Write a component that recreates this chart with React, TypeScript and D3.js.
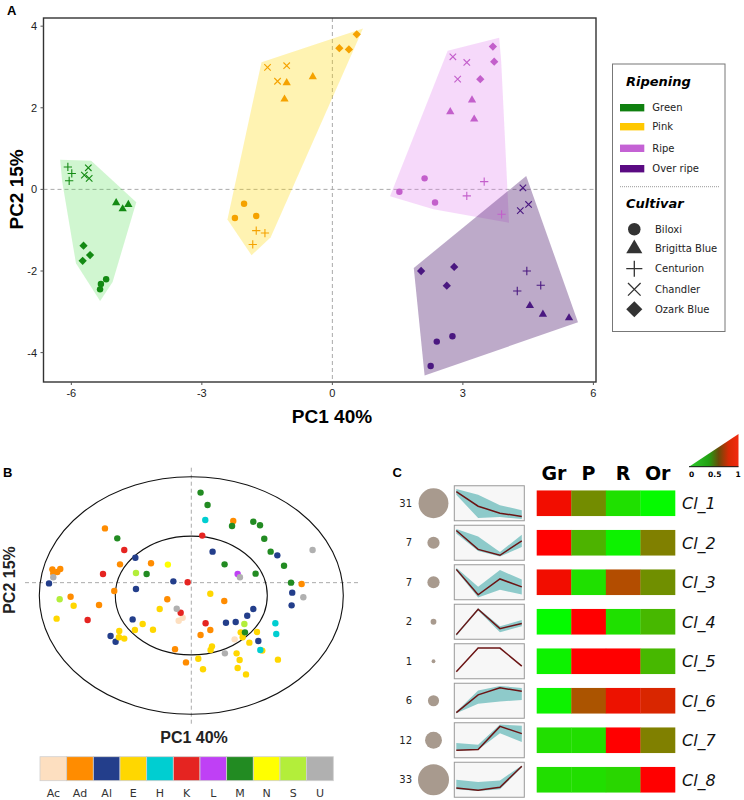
import React from "react";
import * as d3 from "d3";

// ---------------- Panel A data ----------------
const stages = ["Green", "Pink", "Ripe", "Over ripe"];
const stageMarker = ["#138a13", "#f5a200", "#c35fcb", "#4a1880"];
const stageLegend = ["#0f800f", "#ffc800", "#c462d4", "#5a0a82"];
const stageHull = ["#44dd44", "#ffd700", "#e080f0", "#5a2a78"];
const stageHullOpacity = [0.25, 0.3, 0.3, 0.4];
const cultivars = ["Biloxi", "Brigitta Blue", "Centurion", "Chandler", "Ozark Blue"];

type Score = [string, number, number];
const scoresGreen: Score[] = [
  ["Centurion", -6.08, 0.55], ["Centurion", -5.99, 0.39], ["Centurion", -6.05, 0.21],
  ["Chandler", -5.61, 0.53], ["Chandler", -5.7, 0.35], ["Chandler", -5.59, 0.27],
  ["Brigitta Blue", -4.97, -0.33], ["Brigitta Blue", -4.82, -0.48], ["Brigitta Blue", -4.69, -0.37],
  ["Ozark Blue", -5.72, -1.38], ["Ozark Blue", -5.57, -1.61], ["Ozark Blue", -5.74, -1.75],
  ["Biloxi", -5.2, -2.2], ["Biloxi", -5.32, -2.32], ["Biloxi", -5.34, -2.45],
];
const scoresPink: Score[] = [
  ["Ozark Blue", 0.56, 3.8], ["Ozark Blue", 0.16, 3.46], ["Ozark Blue", 0.38, 3.43],
  ["Chandler", -1.49, 2.99], ["Chandler", -1.05, 3.03], ["Chandler", -1.26, 2.65],
  ["Brigitta Blue", -1.05, 2.61], ["Brigitta Blue", -0.45, 2.76], ["Brigitta Blue", -1.1, 2.21],
  ["Biloxi", -2.24, -0.7], ["Biloxi", -2.03, -0.35], ["Biloxi", -1.75, -0.65],
  ["Centurion", -1.75, -1.01], ["Centurion", -1.55, -1.07], ["Centurion", -1.83, -1.35],
];
const scoresRipe: Score[] = [
  ["Ozark Blue", 3.69, 3.5], ["Ozark Blue", 3.72, 3.13], ["Ozark Blue", 3.4, 2.7],
  ["Chandler", 2.77, 3.25], ["Chandler", 3.09, 3.11], ["Chandler", 2.88, 2.7],
  ["Brigitta Blue", 3.21, 2.19], ["Brigitta Blue", 2.71, 1.9], ["Brigitta Blue", 3.26, 1.72],
  ["Biloxi", 2.12, 0.27], ["Biloxi", 1.54, -0.06], ["Biloxi", 2.36, -0.32],
  ["Centurion", 3.49, 0.19], ["Centurion", 3.09, -0.16], ["Centurion", 3.89, -0.61],
];
const scoresOverRipe: Score[] = [
  ["Chandler", 4.38, 0.04], ["Chandler", 4.51, -0.37], ["Chandler", 4.32, -0.52],
  ["Centurion", 4.47, -2.0], ["Centurion", 4.79, -2.35], ["Centurion", 4.25, -2.49],
  ["Brigitta Blue", 4.54, -2.85], ["Brigitta Blue", 4.84, -3.06], ["Brigitta Blue", 5.44, -3.15],
  ["Ozark Blue", 2.04, -2.0], ["Ozark Blue", 2.8, -1.9], ["Ozark Blue", 2.63, -2.36],
  ["Biloxi", 2.4, -3.73], ["Biloxi", 2.76, -3.6], ["Biloxi", 2.26, -4.33],
];
const scoreGroups = [scoresGreen, scoresPink, scoresRipe, scoresOverRipe];
const xTicksA = [-6, -3, 0, 3, 6];
const yTicksA = [-4, -2, 0, 2, 4];

// ---------------- Panel B data ----------------
const classes = ["Ac", "Ad", "Al", "E", "H", "K", "L", "M", "N", "S", "U"];
const classColors = ["#fddfc0", "#ff8c00", "#233e8b", "#ffd700", "#00ced1", "#e52421", "#bf40f5", "#228b22", "#ffff00", "#b3ee3a", "#b0b0b0"];
type P = [number, number];
const loadAc: P[] = [[-0.083, -0.212], [-0.057, -0.187], [0.285, -0.369]];
const loadAd: P[] = [
  [-0.568, 0.565], [-0.914, 0.22], [-0.882, 0.198], [-0.862, 0.223], [-0.908, 0.187], [-0.469, 0.262],
  [-0.265, 0.271], [-0.794, -0.01], [-0.607, -0.08], [-0.507, 0.038], [-0.158, -0.032], [0.276, 0.627],
  [0.217, -0.046], [0.726, 0.097], [0.061, -0.332], [0.125, -0.29], [-0.107, -0.453], [-0.035, -0.563],
];
const loadAl: P[] = [
  [-0.936, 0.102], [-0.368, 0.318], [-0.364, 0.055], [-0.118, 0.119], [0.14, 0.369], [0.566, 0.338],
  [-0.386, -0.201], [-0.531, -0.341], [-0.498, -0.389], [0.228, -0.229], [0.292, -0.223], [0.368, -0.17],
  [0.408, -0.114], [0.441, -0.383], [0.664, 0.024], [0.66, -0.083],
];
const loadE: P[] = [
  [-0.886, -0.195], [-0.774, -0.086], [-0.474, -0.299], [-0.441, -0.363], [-0.476, -0.352], [-0.371, -0.29],
  [-0.32, -0.24], [-0.252, -0.288], [-0.208, -0.114], [0.125, 0.015], [0.046, -0.532], [0.077, -0.621],
  [0.127, -0.459], [0.136, -0.428], [0.298, -0.487], [0.318, -0.543], [0.305, -0.61], [0.36, -0.664],
  [0.325, -0.31], [0.338, -0.352], [0.382, -0.397], [0.432, -0.307], [0.467, -0.464], [0.57, -0.54],
];
const loadH: P[] = [[0.092, 0.636], [0.553, -0.234], [0.559, -0.324], [0.454, -0.459]];
const loadK: P[] = [[-0.441, 0.383], [-0.581, 0.181], [-0.024, 0.111], [0.072, 0.504], [-0.682, -0.206], [-0.07, -0.145], [0.094, -0.234]];
const loadL: P[] = [[0.305, 0.181]];
const loadM: P[] = [
  [0.061, 0.866], [0.107, 0.762], [0.268, 0.585], [0.408, 0.621], [0.452, 0.591], [0.48, 0.478],
  [0.522, 0.369], [0.61, 0.251], [0.219, 0.262], [0.423, 0.184], [-0.294, 0.181], [-0.487, 0.481],
  [0.656, 0.108], [0.353, -0.31],
];
const loadN: P[] = [[-0.154, 0.26]];
const loadS: P[] = [[-0.364, 0.189], [-0.866, -0.032], [0.349, -0.24]];
const loadU: P[] = [[-0.908, 0.153], [-0.096, -0.111], [0.32, 0.153], [0.798, 0.383], [0.737, -0.015], [0.221, -0.487]];
const loadings = [loadAc, loadAd, loadAl, loadE, loadH, loadK, loadL, loadM, loadN, loadS, loadU];
const bHLine = 0.108;

// ---------------- Panel C data ----------------
const clusterNames = ["Cl_1", "Cl_2", "Cl_3", "Cl_4", "Cl_5", "Cl_6", "Cl_7", "Cl_8"];
const clusterSizes = [31, 7, 7, 2, 1, 6, 12, 33];
const stageCols = ["Gr", "P", "R", "Or"];
const profileMean = [
  [0.85, 0.41, 0.2, 0.1], [0.87, 0.3, 0.12, 0.56], [0.89, 0.12, 0.6, 0.36], [0.11, 0.88, 0.29, 0.45],
  [0.18, 0.9, 0.9, 0.35], [0.14, 0.68, 0.89, 0.79], [0.2, 0.22, 0.92, 0.7], [0.25, 0.18, 0.27, 0.91],
];
const profileUpper = [
  [0.93, 0.76, 0.44, 0.29], [0.92, 0.69, 0.22, 0.74], [0.94, 0.36, 0.87, 0.58], [0.14, 0.91, 0.36, 0.55],
  [0.18, 0.9, 0.9, 0.35], [0.17, 0.81, 0.95, 0.89], [0.42, 0.36, 0.98, 0.94], [0.5, 0.43, 0.48, 0.93],
];
const profileLower = [
  [0.76, 0.05, 0.08, 0.02], [0.78, 0.25, 0.08, 0.37], [0.85, 0.04, 0.27, 0.13], [0.07, 0.84, 0.18, 0.36],
  [0.18, 0.9, 0.9, 0.35], [0.12, 0.41, 0.48, 0.52], [0.18, 0.21, 0.71, 0.45], [0.21, 0.16, 0.21, 0.88],
];
const heatValues = [
  [0.95, 0.45, 0.12, 0.02], [1.0, 0.3, 0.05, 0.5], [0.95, 0.12, 0.7, 0.44], [0.02, 1.0, 0.12, 0.28],
  [0.05, 1.0, 1.0, 0.28], [0.05, 0.67, 0.93, 0.85], [0.13, 0.13, 1.0, 0.5], [0.13, 0.13, 0.16, 1.0],
];
const heatLegendTicks = [0, 0.5, 1];
const triGradStops: [number, string][] = [[0, "#2ecc2e"], [0.4, "#22a012"], [0.6, "#6a4a08"], [0.8, "#d82a05"], [1, "#f22a10"]];

// ---------------- helpers ----------------
function markerPath(cultivar: string, s: number): { d: string; filled: boolean } {
  switch (cultivar) {
    case "Biloxi":
      return { d: d3.symbol(d3.symbolCircle, Math.PI * s * s * 0.8)() as string, filled: true };
    case "Brigitta Blue": {
      const side = s * 2.3;
      return { d: d3.symbol(d3.symbolTriangle, (Math.sqrt(3) / 4) * side * side)() as string, filled: true };
    }
    case "Centurion": {
      const a = s * 1.15;
      return { d: `M${-a},0H${a}M0,${-a}V${a}`, filled: false };
    }
    case "Chandler": {
      const a = s * 0.9;
      return { d: `M${-a},${-a}L${a},${a}M${-a},${a}L${a},${-a}`, filled: false };
    }
    default: {
      const a = s * 1.15;
      return { d: `M0,${-a}L${a},0L0,${a}L${-a},0Z`, filled: true };
    }
  }
}

function paddedHull(pts: [number, number][], pad: number): [number, number][] {
  const hull = d3.polygonHull(pts) as [number, number][];
  const c = d3.polygonCentroid(hull);
  const n = hull.length;
  const normals = hull.map((p, i) => {
    const q = hull[(i + 1) % n];
    const dx = q[0] - p[0], dy = q[1] - p[1];
    const L = Math.hypot(dx, dy) || 1;
    let nx = dy / L, ny = -dx / L;
    const mx = (p[0] + q[0]) / 2 - c[0], my = (p[1] + q[1]) / 2 - c[1];
    if (nx * mx + ny * my < 0) { nx = -nx; ny = -ny; }
    return [nx, ny];
  });
  return hull.map((p, i) => {
    const n1 = normals[(i - 1 + n) % n], n2 = normals[i];
    const dot = n1[0] * n2[0] + n1[1] * n2[1];
    const k = Math.min(pad / (1 + dot), pad * 1.6);
    return [p[0] + (n1[0] + n2[0]) * k, p[1] + (n1[1] + n2[1]) * k] as [number, number];
  });
}

const SANS = "'Liberation Sans', Arial, sans-serif";
const DJ = "'DejaVu Sans', sans-serif";

export default function App() {
  // ---- Panel A ----
  const xA = d3.scaleLinear().domain([-6.64, 6.06]).range([43.5, 596]);
  const yA = d3.scaleLinear().domain([-4.72, 4.2]).range([382, 18]);
  const [ax0, ax1] = xA.range();
  const [ay0, ay1] = yA.range();

  // ---- Panel B ----
  const xB = d3.scaleLinear().domain([-1, 1]).range([39.3, 343.3]);
  const yB = d3.scaleLinear().domain([-1, 1]).range([714.3, 476.7]);
  const colorBand = d3.scaleBand().domain(classes).range([40, 333.3]);

  // ---- Panel C ----
  const rowBand = d3.scaleBand().domain(clusterNames).range([483.5, 799.5]);
  const sizeScale = d3.scalePow().exponent(0.6).domain([0, 33]).range([0, 15.5]);
  const heatX = d3.scaleBand().domain(stageCols).range([536.7, 675]);
  const heatColor = d3.scaleLinear<string>().domain([0, 1]).range(["#00ff00", "#ff0000"]).interpolate(d3.interpolateRgb);
  const boxX0 = 454.3, boxW = 70, boxH = 35;
  const sparkX = d3.scalePoint().domain(stageCols).range([boxX0 + 2, boxX0 + boxW - 2.5]);
  const legendTri = { x0: 689, x1: 738.5, yb: 466.7, yt: 434 };
  const triX = d3.scaleLinear().domain([0, 1]).range([legendTri.x0 + 2.5, legendTri.x1 - 0.5]);

  return (
    <svg width={744} height={800} style={{ position: "absolute", left: 0, top: 0, background: "#fff" }}>
      <defs>
        <linearGradient id="heatGrad" x1="0" x2="1" y1="0" y2="0">
          {triGradStops.map(([t, c]) => (
            <stop key={t} offset={`${t * 100}%`} stopColor={c} />
          ))}
        </linearGradient>
      </defs>

      {/* ================= Panel A ================= */}
      <text x={7} y={15} fontFamily={SANS} fontWeight="bold" fontSize={13}>A</text>
      <line x1={xA(0)} x2={xA(0)} y1={ay1} y2={ay0} stroke="#aaa" strokeDasharray="4,3" />
      <line x1={ax0} x2={ax1} y1={yA(0)} y2={yA(0)} stroke="#aaa" strokeDasharray="4,3" />
      {scoreGroups.map((g, gi) => {
        const pts = g.map((d) => [xA(d[1]), yA(d[2])] as [number, number]);
        const hull = paddedHull(pts, 7);
        return (
          <path key={"hull" + gi} d={"M" + hull.map((p) => p.join(",")).join("L") + "Z"}
            fill={stageHull[gi]} fillOpacity={stageHullOpacity[gi]} stroke="none" />
        );
      })}
      {scoreGroups.map((g, gi) =>
        g.map((d, i) => {
          const m = markerPath(d[0], 3.6);
          return (
            <path key={`m${gi}-${i}`} d={m.d} transform={`translate(${xA(d[1])},${yA(d[2])})`}
              fill={m.filled ? stageMarker[gi] : "none"} stroke={m.filled ? "none" : stageMarker[gi]} strokeWidth={1.1} />
          );
        })
      )}
      <rect x={ax0} y={ay1} width={ax1 - ax0} height={ay0 - ay1} fill="none" stroke="#333" strokeWidth={1.4} />
      {xTicksA.map((t) => (
        <g key={"xt" + t}>
          <line x1={xA(t)} x2={xA(t)} y1={ay0} y2={ay0 + 3} stroke="#555" />
          <text x={xA(t)} y={397} textAnchor="middle" fontFamily={SANS} fontSize={11} fill="#222">{t}</text>
        </g>
      ))}
      {yTicksA.map((t) => (
        <g key={"yt" + t}>
          <line x1={ax0 - 3} x2={ax0} y1={yA(t)} y2={yA(t)} stroke="#555" />
          <text x={37} y={yA(t) + 4} textAnchor="end" fontFamily={SANS} fontSize={11} fill="#222">{t}</text>
        </g>
      ))}
      <text x={332} y={422.5} textAnchor="middle" fontFamily={SANS} fontWeight="bold" fontSize={19}>PC1 40%</text>
      <text transform={`translate(23,${yA(0)}) rotate(-90)`} textAnchor="middle" fontFamily={SANS} fontWeight="bold" fontSize={19}>PC2 15%</text>

      {/* Legend */}
      <rect x={612.5} y={64} width={112.5} height={267.5} fill="#fff" stroke="#777" strokeWidth={1} />
      <text x={626} y={86} fontFamily={DJ} fontWeight="bold" fontStyle="italic" fontSize={13}>Ripening</text>
      {stages.map((s, i) => {
        const yc = [107.7, 126.7, 148.3, 168.7][i];
        return (
          <g key={"ls" + s}>
            <rect x={620} y={yc - 3.7} width={24.3} height={7.4} fill={stageLegend[i]} />
            <text x={652.3} y={yc + 3.5} fontFamily={DJ} fontSize={10} fill="#222">{s}</text>
          </g>
        );
      })}
      <line x1={620} x2={720} y1={186.7} y2={186.7} stroke="#999" strokeDasharray="1,1" />
      <text x={626} y={208.3} fontFamily={DJ} fontWeight="bold" fontStyle="italic" fontSize={13}>Cultivar</text>
      {cultivars.map((c, i) => {
        const yc = [229.3, 248.7, 268.7, 289.3, 309.3][i];
        const m = markerPath(c, 7);
        return (
          <g key={"lc" + c}>
            <path d={m.d} transform={`translate(634.3,${yc})`} fill={m.filled ? "#333" : "none"}
              stroke={m.filled ? "none" : "#333"} strokeWidth={1.3} />
            <text x={655} y={yc + 3.5} fontFamily={DJ} fontSize={10} fill="#222">{c}</text>
          </g>
        );
      })}

      {/* ================= Panel B ================= */}
      <text x={3} y={477} fontFamily={SANS} fontWeight="bold" fontSize={13}>B</text>
      <line x1={xB(0)} x2={xB(0)} y1={467.7} y2={726} stroke="#aaa" strokeDasharray="4,3" />
      <line x1={25} x2={358} y1={yB(bHLine)} y2={yB(bHLine)} stroke="#aaa" strokeDasharray="4,3" />
      {[1, 0.5].map((r) => (
        <ellipse key={"el" + r} cx={xB(0)} cy={yB(0)} rx={xB(r) - xB(0)} ry={yB(0) - yB(r)}
          fill="none" stroke="#111" strokeWidth={1.1} />
      ))}
      {loadings.map((arr, ci) =>
        arr.map((p, i) => (
          <circle key={`b${ci}-${i}`} cx={xB(p[0])} cy={yB(p[1])} r={3.2} fill={classColors[ci]} />
        ))
      )}
      <text x={194} y={742.7} textAnchor="middle" fontFamily={SANS} fontWeight="bold" fontSize={16} fill="#222">PC1 40%</text>
      <text transform={`translate(15,580) rotate(-90)`} textAnchor="middle" fontFamily={SANS} fontWeight="bold" fontSize={16} fill="#222">PC2 15%</text>
      {classes.map((c, i) => (
        <g key={"cb" + c}>
          <rect x={colorBand(c)} y={756.7} width={colorBand.bandwidth()} height={24} fill={classColors[i]} stroke="#d0d0d0" strokeWidth={0.8} />
          <text x={(colorBand(c) as number) + colorBand.bandwidth() / 2} y={796.5} textAnchor="middle" fontFamily={DJ} fontSize={11} fill="#333">{c}</text>
        </g>
      ))}

      {/* ================= Panel C ================= */}
      <text x={392.5} y={477} fontFamily={SANS} fontWeight="bold" fontSize={13}>C</text>
      {stageCols.map((s) => (
        <text key={"hc" + s} x={(heatX(s) as number) + heatX.bandwidth() / 2} y={480} textAnchor="middle"
          fontFamily={DJ} fontWeight="bold" fontSize={19}>{s}</text>
      ))}
      <path d={`M${legendTri.x0},${legendTri.yb}L${legendTri.x1},${legendTri.yb}L${legendTri.x1},${legendTri.yt}Z`}
        fill="url(#heatGrad)" stroke="none" />
      <line x1={legendTri.x0} x2={legendTri.x1} y1={legendTri.yb} y2={legendTri.yb} stroke="#111" strokeWidth={1} />
      {heatLegendTicks.map((t) => (
        <text key={"ht" + t} x={triX(t)} y={477} textAnchor="middle" fontFamily={DJ} fontWeight="bold" fontSize={7.5}>{t}</text>
      ))}
      {clusterNames.map((cl, ri) => {
        const yc = (rowBand(cl) as number) + rowBand.bandwidth() / 2;
        const top = yc - boxH / 2;
        const sy = d3.scaleLinear().domain([0, 1]).range([top + boxH - 1, top + 1]);
        const area = d3.area<string>()
          .x((s) => sparkX(s) as number)
          .y0((s, i) => sy(profileLower[ri][i]))
          .y1((s, i) => sy(profileUpper[ri][i]));
        const line = d3.line<string>()
          .x((s) => sparkX(s) as number)
          .y((s, i) => sy(profileMean[ri][i]));
        return (
          <g key={"row" + cl}>
            <text x={412} y={yc + 3.5} textAnchor="end" fontFamily={DJ} fontSize={10} fill="#222">{clusterSizes[ri]}</text>
            <circle cx={433.5} cy={yc} r={sizeScale(clusterSizes[ri])} fill="#a89a8e" />
            <rect x={boxX0} y={top} width={boxW} height={boxH} fill="#f7f7f7" stroke="#999" strokeWidth={1} />
            <path d={area(stageCols) as string} fill="#8ecaca" />
            <path d={line(stageCols) as string} fill="none" stroke="#6b1414" strokeWidth={1.5} />
            {stageCols.map((s, ci) => (
              <rect key={"h" + s} x={heatX(s)} y={yc - 12.8} width={heatX.bandwidth() + 0.3} height={25.6}
                fill={heatColor(heatValues[ri][ci])} />
            ))}
            <text x={682} y={yc + 6} fontFamily={DJ} fontStyle="italic" fontSize={16} fill="#111">{cl}</text>
          </g>
        );
      })}
    </svg>
  );
}
